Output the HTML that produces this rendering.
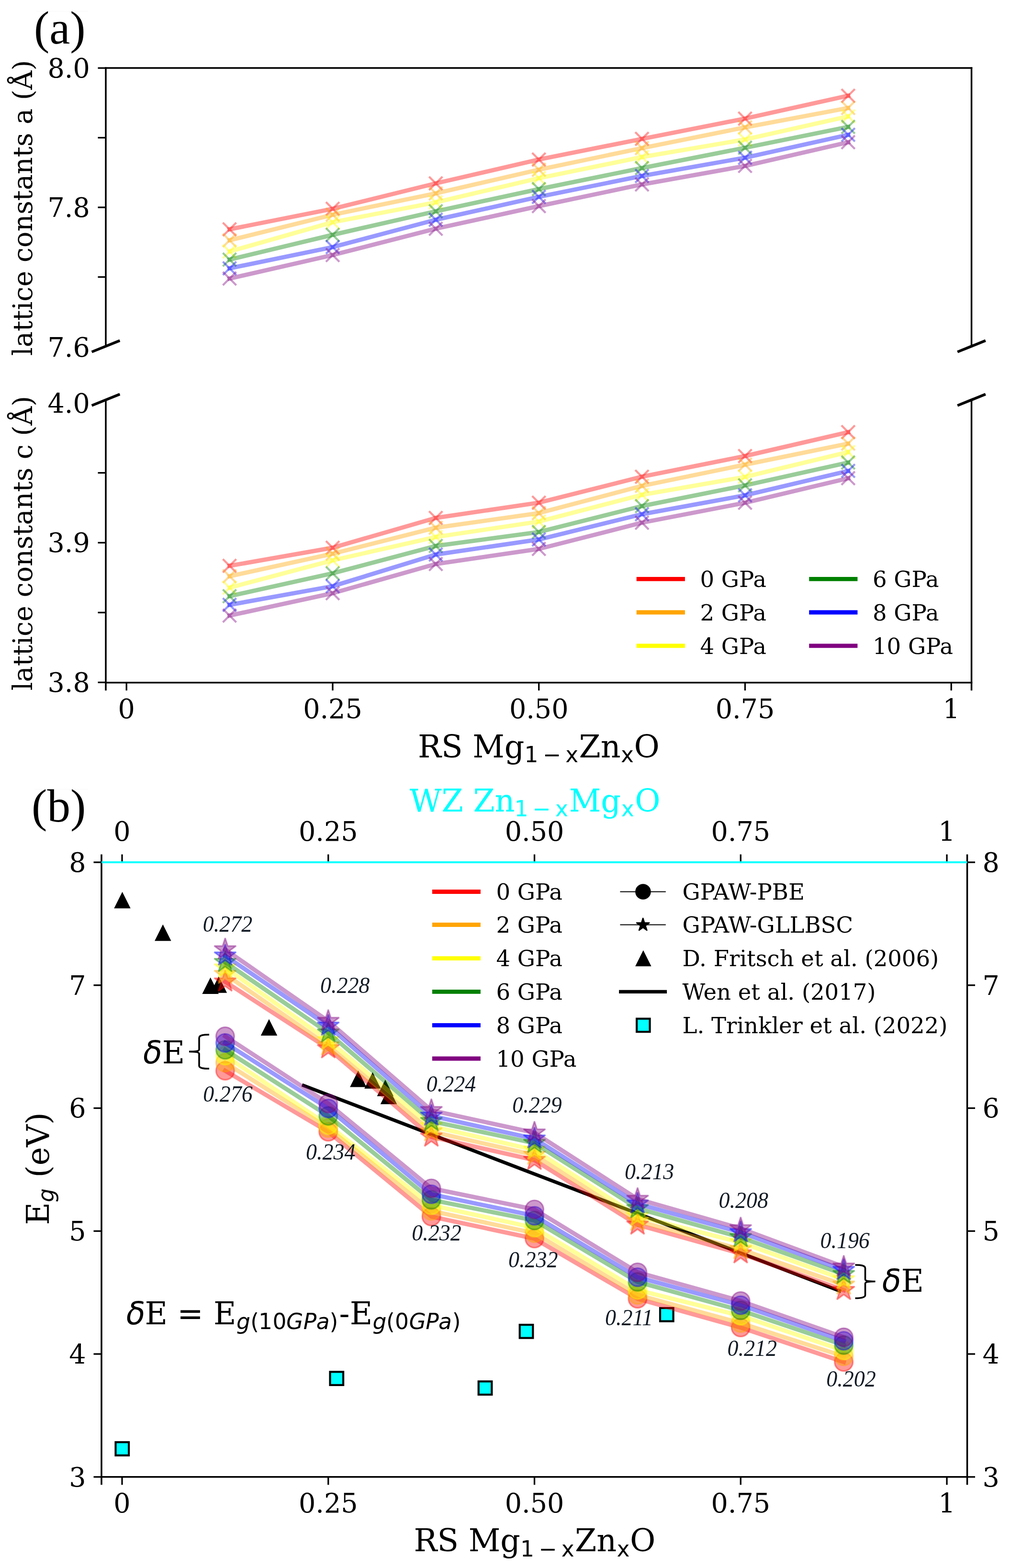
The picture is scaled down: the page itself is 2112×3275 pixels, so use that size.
<!DOCTYPE html>
<html><head><meta charset="utf-8"><title>Lattice constants and band gaps of Mg1-xZnxO</title>
<style>html,body{margin:0;padding:0;background:#fff;}svg{display:block;}</style></head>
<body>
<svg width="2112" height="3275" viewBox="0 0 2112 3275">
<rect width="2112" height="3275" fill="#fff"/>
<g id="panel-a">
<polyline points="479.57,478.9 694.95,436.1 910.33,383 1125.7,333.2 1341.08,290.1 1556.45,247.7 1771.83,199.9" fill="none" stroke="#ff0000" stroke-opacity="0.4" stroke-width="9" stroke-linejoin="round" stroke-linecap="square"/>
<path d="M465.57 464.9L493.57 492.9M465.57 492.9L493.57 464.9" stroke="#ff0000" stroke-opacity="0.4" stroke-width="4.3" fill="none"/>
<path d="M680.95 422.1L708.95 450.1M680.95 450.1L708.95 422.1" stroke="#ff0000" stroke-opacity="0.4" stroke-width="4.3" fill="none"/>
<path d="M896.33 369L924.33 397M896.33 397L924.33 369" stroke="#ff0000" stroke-opacity="0.4" stroke-width="4.3" fill="none"/>
<path d="M1111.7 319.2L1139.7 347.2M1111.7 347.2L1139.7 319.2" stroke="#ff0000" stroke-opacity="0.4" stroke-width="4.3" fill="none"/>
<path d="M1327.08 276.1L1355.08 304.1M1327.08 304.1L1355.08 276.1" stroke="#ff0000" stroke-opacity="0.4" stroke-width="4.3" fill="none"/>
<path d="M1542.45 233.7L1570.45 261.7M1542.45 261.7L1570.45 233.7" stroke="#ff0000" stroke-opacity="0.4" stroke-width="4.3" fill="none"/>
<path d="M1757.83 185.9L1785.83 213.9M1757.83 213.9L1785.83 185.9" stroke="#ff0000" stroke-opacity="0.4" stroke-width="4.3" fill="none"/>
<polyline points="479.57,501.9 694.95,448.6 910.33,403.9 1125.7,354.4 1341.08,309.3 1556.45,266 1771.83,225.5" fill="none" stroke="#ffa500" stroke-opacity="0.4" stroke-width="9" stroke-linejoin="round" stroke-linecap="square"/>
<path d="M465.57 487.9L493.57 515.9M465.57 515.9L493.57 487.9" stroke="#ffa500" stroke-opacity="0.4" stroke-width="4.3" fill="none"/>
<path d="M680.95 434.6L708.95 462.6M680.95 462.6L708.95 434.6" stroke="#ffa500" stroke-opacity="0.4" stroke-width="4.3" fill="none"/>
<path d="M896.33 389.9L924.33 417.9M896.33 417.9L924.33 389.9" stroke="#ffa500" stroke-opacity="0.4" stroke-width="4.3" fill="none"/>
<path d="M1111.7 340.4L1139.7 368.4M1111.7 368.4L1139.7 340.4" stroke="#ffa500" stroke-opacity="0.4" stroke-width="4.3" fill="none"/>
<path d="M1327.08 295.3L1355.08 323.3M1327.08 323.3L1355.08 295.3" stroke="#ffa500" stroke-opacity="0.4" stroke-width="4.3" fill="none"/>
<path d="M1542.45 252L1570.45 280M1542.45 280L1570.45 252" stroke="#ffa500" stroke-opacity="0.4" stroke-width="4.3" fill="none"/>
<path d="M1757.83 211.5L1785.83 239.5M1757.83 239.5L1785.83 211.5" stroke="#ffa500" stroke-opacity="0.4" stroke-width="4.3" fill="none"/>
<polyline points="479.57,525.3 694.95,464.2 910.33,422.6 1125.7,372.1 1341.08,328 1556.45,291.3 1771.83,243.1" fill="none" stroke="#ffff00" stroke-opacity="0.4" stroke-width="9" stroke-linejoin="round" stroke-linecap="square"/>
<path d="M465.57 511.3L493.57 539.3M465.57 539.3L493.57 511.3" stroke="#ffff00" stroke-opacity="0.4" stroke-width="4.3" fill="none"/>
<path d="M680.95 450.2L708.95 478.2M680.95 478.2L708.95 450.2" stroke="#ffff00" stroke-opacity="0.4" stroke-width="4.3" fill="none"/>
<path d="M896.33 408.6L924.33 436.6M896.33 436.6L924.33 408.6" stroke="#ffff00" stroke-opacity="0.4" stroke-width="4.3" fill="none"/>
<path d="M1111.7 358.1L1139.7 386.1M1111.7 386.1L1139.7 358.1" stroke="#ffff00" stroke-opacity="0.4" stroke-width="4.3" fill="none"/>
<path d="M1327.08 314L1355.08 342M1327.08 342L1355.08 314" stroke="#ffff00" stroke-opacity="0.4" stroke-width="4.3" fill="none"/>
<path d="M1542.45 277.3L1570.45 305.3M1542.45 305.3L1570.45 277.3" stroke="#ffff00" stroke-opacity="0.4" stroke-width="4.3" fill="none"/>
<path d="M1757.83 229.1L1785.83 257.1M1757.83 257.1L1785.83 229.1" stroke="#ffff00" stroke-opacity="0.4" stroke-width="4.3" fill="none"/>
<polyline points="479.57,542.2 694.95,490.5 910.33,441.3 1125.7,395 1341.08,351 1556.45,308.6 1771.83,265" fill="none" stroke="#008000" stroke-opacity="0.4" stroke-width="9" stroke-linejoin="round" stroke-linecap="square"/>
<path d="M465.57 528.2L493.57 556.2M465.57 556.2L493.57 528.2" stroke="#008000" stroke-opacity="0.4" stroke-width="4.3" fill="none"/>
<path d="M680.95 476.5L708.95 504.5M680.95 504.5L708.95 476.5" stroke="#008000" stroke-opacity="0.4" stroke-width="4.3" fill="none"/>
<path d="M896.33 427.3L924.33 455.3M896.33 455.3L924.33 427.3" stroke="#008000" stroke-opacity="0.4" stroke-width="4.3" fill="none"/>
<path d="M1111.7 381L1139.7 409M1111.7 409L1139.7 381" stroke="#008000" stroke-opacity="0.4" stroke-width="4.3" fill="none"/>
<path d="M1327.08 337L1355.08 365M1327.08 365L1355.08 337" stroke="#008000" stroke-opacity="0.4" stroke-width="4.3" fill="none"/>
<path d="M1542.45 294.6L1570.45 322.6M1542.45 322.6L1570.45 294.6" stroke="#008000" stroke-opacity="0.4" stroke-width="4.3" fill="none"/>
<path d="M1757.83 251L1785.83 279M1757.83 279L1785.83 251" stroke="#008000" stroke-opacity="0.4" stroke-width="4.3" fill="none"/>
<polyline points="479.57,560.4 694.95,516.1 910.33,459 1125.7,411.2 1341.08,367.5 1556.45,329.4 1771.83,281.6" fill="none" stroke="#0000ff" stroke-opacity="0.4" stroke-width="9" stroke-linejoin="round" stroke-linecap="square"/>
<path d="M465.57 546.4L493.57 574.4M465.57 574.4L493.57 546.4" stroke="#0000ff" stroke-opacity="0.4" stroke-width="4.3" fill="none"/>
<path d="M680.95 502.1L708.95 530.1M680.95 530.1L708.95 502.1" stroke="#0000ff" stroke-opacity="0.4" stroke-width="4.3" fill="none"/>
<path d="M896.33 445L924.33 473M896.33 473L924.33 445" stroke="#0000ff" stroke-opacity="0.4" stroke-width="4.3" fill="none"/>
<path d="M1111.7 397.2L1139.7 425.2M1111.7 425.2L1139.7 397.2" stroke="#0000ff" stroke-opacity="0.4" stroke-width="4.3" fill="none"/>
<path d="M1327.08 353.5L1355.08 381.5M1327.08 381.5L1355.08 353.5" stroke="#0000ff" stroke-opacity="0.4" stroke-width="4.3" fill="none"/>
<path d="M1542.45 315.4L1570.45 343.4M1542.45 343.4L1570.45 315.4" stroke="#0000ff" stroke-opacity="0.4" stroke-width="4.3" fill="none"/>
<path d="M1757.83 267.6L1785.83 295.6M1757.83 295.6L1785.83 267.6" stroke="#0000ff" stroke-opacity="0.4" stroke-width="4.3" fill="none"/>
<polyline points="479.57,581.8 694.95,532.7 910.33,477.7 1125.7,430.5 1341.08,385.2 1556.45,346.6 1771.83,297.1" fill="none" stroke="#800080" stroke-opacity="0.4" stroke-width="9" stroke-linejoin="round" stroke-linecap="square"/>
<path d="M465.57 567.8L493.57 595.8M465.57 595.8L493.57 567.8" stroke="#800080" stroke-opacity="0.4" stroke-width="4.3" fill="none"/>
<path d="M680.95 518.7L708.95 546.7M680.95 546.7L708.95 518.7" stroke="#800080" stroke-opacity="0.4" stroke-width="4.3" fill="none"/>
<path d="M896.33 463.7L924.33 491.7M896.33 491.7L924.33 463.7" stroke="#800080" stroke-opacity="0.4" stroke-width="4.3" fill="none"/>
<path d="M1111.7 416.5L1139.7 444.5M1111.7 444.5L1139.7 416.5" stroke="#800080" stroke-opacity="0.4" stroke-width="4.3" fill="none"/>
<path d="M1327.08 371.2L1355.08 399.2M1327.08 399.2L1355.08 371.2" stroke="#800080" stroke-opacity="0.4" stroke-width="4.3" fill="none"/>
<path d="M1542.45 332.6L1570.45 360.6M1542.45 360.6L1570.45 332.6" stroke="#800080" stroke-opacity="0.4" stroke-width="4.3" fill="none"/>
<path d="M1757.83 283.1L1785.83 311.1M1757.83 311.1L1785.83 283.1" stroke="#800080" stroke-opacity="0.4" stroke-width="4.3" fill="none"/>
<polyline points="479.57,1181.8 694.95,1144 910.33,1081.7 1125.7,1049.9 1341.08,995.7 1556.45,952.5 1771.83,902.6" fill="none" stroke="#ff0000" stroke-opacity="0.4" stroke-width="9" stroke-linejoin="round" stroke-linecap="square"/>
<path d="M465.57 1167.8L493.57 1195.8M465.57 1195.8L493.57 1167.8" stroke="#ff0000" stroke-opacity="0.4" stroke-width="4.3" fill="none"/>
<path d="M680.95 1130L708.95 1158M680.95 1158L708.95 1130" stroke="#ff0000" stroke-opacity="0.4" stroke-width="4.3" fill="none"/>
<path d="M896.33 1067.7L924.33 1095.7M896.33 1095.7L924.33 1067.7" stroke="#ff0000" stroke-opacity="0.4" stroke-width="4.3" fill="none"/>
<path d="M1111.7 1035.9L1139.7 1063.9M1111.7 1063.9L1139.7 1035.9" stroke="#ff0000" stroke-opacity="0.4" stroke-width="4.3" fill="none"/>
<path d="M1327.08 981.7L1355.08 1009.7M1327.08 1009.7L1355.08 981.7" stroke="#ff0000" stroke-opacity="0.4" stroke-width="4.3" fill="none"/>
<path d="M1542.45 938.5L1570.45 966.5M1542.45 966.5L1570.45 938.5" stroke="#ff0000" stroke-opacity="0.4" stroke-width="4.3" fill="none"/>
<path d="M1757.83 888.6L1785.83 916.6M1757.83 916.6L1785.83 888.6" stroke="#ff0000" stroke-opacity="0.4" stroke-width="4.3" fill="none"/>
<polyline points="479.57,1203.6 694.95,1156.5 910.33,1102.2 1125.7,1071.7 1341.08,1014.8 1556.45,970.5 1771.83,926.5" fill="none" stroke="#ffa500" stroke-opacity="0.4" stroke-width="9" stroke-linejoin="round" stroke-linecap="square"/>
<path d="M465.57 1189.6L493.57 1217.6M465.57 1217.6L493.57 1189.6" stroke="#ffa500" stroke-opacity="0.4" stroke-width="4.3" fill="none"/>
<path d="M680.95 1142.5L708.95 1170.5M680.95 1170.5L708.95 1142.5" stroke="#ffa500" stroke-opacity="0.4" stroke-width="4.3" fill="none"/>
<path d="M896.33 1088.2L924.33 1116.2M896.33 1116.2L924.33 1088.2" stroke="#ffa500" stroke-opacity="0.4" stroke-width="4.3" fill="none"/>
<path d="M1111.7 1057.7L1139.7 1085.7M1111.7 1085.7L1139.7 1057.7" stroke="#ffa500" stroke-opacity="0.4" stroke-width="4.3" fill="none"/>
<path d="M1327.08 1000.8L1355.08 1028.8M1327.08 1028.8L1355.08 1000.8" stroke="#ffa500" stroke-opacity="0.4" stroke-width="4.3" fill="none"/>
<path d="M1542.45 956.5L1570.45 984.5M1542.45 984.5L1570.45 956.5" stroke="#ffa500" stroke-opacity="0.4" stroke-width="4.3" fill="none"/>
<path d="M1757.83 912.5L1785.83 940.5M1757.83 940.5L1785.83 912.5" stroke="#ffa500" stroke-opacity="0.4" stroke-width="4.3" fill="none"/>
<polyline points="479.57,1227.5 694.95,1170.4 910.33,1121.6 1125.7,1089.4 1341.08,1033.5 1556.45,996.1 1771.83,944.2" fill="none" stroke="#ffff00" stroke-opacity="0.4" stroke-width="9" stroke-linejoin="round" stroke-linecap="square"/>
<path d="M465.57 1213.5L493.57 1241.5M465.57 1241.5L493.57 1213.5" stroke="#ffff00" stroke-opacity="0.4" stroke-width="4.3" fill="none"/>
<path d="M680.95 1156.4L708.95 1184.4M680.95 1184.4L708.95 1156.4" stroke="#ffff00" stroke-opacity="0.4" stroke-width="4.3" fill="none"/>
<path d="M896.33 1107.6L924.33 1135.6M896.33 1135.6L924.33 1107.6" stroke="#ffff00" stroke-opacity="0.4" stroke-width="4.3" fill="none"/>
<path d="M1111.7 1075.4L1139.7 1103.4M1111.7 1103.4L1139.7 1075.4" stroke="#ffff00" stroke-opacity="0.4" stroke-width="4.3" fill="none"/>
<path d="M1327.08 1019.5L1355.08 1047.5M1327.08 1047.5L1355.08 1019.5" stroke="#ffff00" stroke-opacity="0.4" stroke-width="4.3" fill="none"/>
<path d="M1542.45 982.1L1570.45 1010.1M1542.45 1010.1L1570.45 982.1" stroke="#ffff00" stroke-opacity="0.4" stroke-width="4.3" fill="none"/>
<path d="M1757.83 930.2L1785.83 958.2M1757.83 958.2L1785.83 930.2" stroke="#ffff00" stroke-opacity="0.4" stroke-width="4.3" fill="none"/>
<polyline points="479.57,1245.2 694.95,1197.4 910.33,1140.3 1125.7,1111.2 1341.08,1057 1556.45,1013.8 1771.83,966" fill="none" stroke="#008000" stroke-opacity="0.4" stroke-width="9" stroke-linejoin="round" stroke-linecap="square"/>
<path d="M465.57 1231.2L493.57 1259.2M465.57 1259.2L493.57 1231.2" stroke="#008000" stroke-opacity="0.4" stroke-width="4.3" fill="none"/>
<path d="M680.95 1183.4L708.95 1211.4M680.95 1211.4L708.95 1183.4" stroke="#008000" stroke-opacity="0.4" stroke-width="4.3" fill="none"/>
<path d="M896.33 1126.3L924.33 1154.3M896.33 1154.3L924.33 1126.3" stroke="#008000" stroke-opacity="0.4" stroke-width="4.3" fill="none"/>
<path d="M1111.7 1097.2L1139.7 1125.2M1111.7 1125.2L1139.7 1097.2" stroke="#008000" stroke-opacity="0.4" stroke-width="4.3" fill="none"/>
<path d="M1327.08 1043L1355.08 1071M1327.08 1071L1355.08 1043" stroke="#008000" stroke-opacity="0.4" stroke-width="4.3" fill="none"/>
<path d="M1542.45 999.8L1570.45 1027.8M1542.45 1027.8L1570.45 999.8" stroke="#008000" stroke-opacity="0.4" stroke-width="4.3" fill="none"/>
<path d="M1757.83 952L1785.83 980M1757.83 980L1785.83 952" stroke="#008000" stroke-opacity="0.4" stroke-width="4.3" fill="none"/>
<polyline points="479.57,1263.3 694.95,1224.4 910.33,1158.3 1125.7,1126.8 1341.08,1074 1556.45,1034.5 1771.83,983.6" fill="none" stroke="#0000ff" stroke-opacity="0.4" stroke-width="9" stroke-linejoin="round" stroke-linecap="square"/>
<path d="M465.57 1249.3L493.57 1277.3M465.57 1277.3L493.57 1249.3" stroke="#0000ff" stroke-opacity="0.4" stroke-width="4.3" fill="none"/>
<path d="M680.95 1210.4L708.95 1238.4M680.95 1238.4L708.95 1210.4" stroke="#0000ff" stroke-opacity="0.4" stroke-width="4.3" fill="none"/>
<path d="M896.33 1144.3L924.33 1172.3M896.33 1172.3L924.33 1144.3" stroke="#0000ff" stroke-opacity="0.4" stroke-width="4.3" fill="none"/>
<path d="M1111.7 1112.8L1139.7 1140.8M1111.7 1140.8L1139.7 1112.8" stroke="#0000ff" stroke-opacity="0.4" stroke-width="4.3" fill="none"/>
<path d="M1327.08 1060L1355.08 1088M1327.08 1088L1355.08 1060" stroke="#0000ff" stroke-opacity="0.4" stroke-width="4.3" fill="none"/>
<path d="M1542.45 1020.5L1570.45 1048.5M1542.45 1048.5L1570.45 1020.5" stroke="#0000ff" stroke-opacity="0.4" stroke-width="4.3" fill="none"/>
<path d="M1757.83 969.6L1785.83 997.6M1757.83 997.6L1785.83 969.6" stroke="#0000ff" stroke-opacity="0.4" stroke-width="4.3" fill="none"/>
<polyline points="479.57,1285.7 694.95,1239 910.33,1178 1125.7,1146.5 1341.08,1091.7 1556.45,1050.1 1771.83,998.8" fill="none" stroke="#800080" stroke-opacity="0.4" stroke-width="9" stroke-linejoin="round" stroke-linecap="square"/>
<path d="M465.57 1271.7L493.57 1299.7M465.57 1299.7L493.57 1271.7" stroke="#800080" stroke-opacity="0.4" stroke-width="4.3" fill="none"/>
<path d="M680.95 1225L708.95 1253M680.95 1253L708.95 1225" stroke="#800080" stroke-opacity="0.4" stroke-width="4.3" fill="none"/>
<path d="M896.33 1164L924.33 1192M896.33 1192L924.33 1164" stroke="#800080" stroke-opacity="0.4" stroke-width="4.3" fill="none"/>
<path d="M1111.7 1132.5L1139.7 1160.5M1111.7 1160.5L1139.7 1132.5" stroke="#800080" stroke-opacity="0.4" stroke-width="4.3" fill="none"/>
<path d="M1327.08 1077.7L1355.08 1105.7M1327.08 1105.7L1355.08 1077.7" stroke="#800080" stroke-opacity="0.4" stroke-width="4.3" fill="none"/>
<path d="M1542.45 1036.1L1570.45 1064.1M1542.45 1064.1L1570.45 1036.1" stroke="#800080" stroke-opacity="0.4" stroke-width="4.3" fill="none"/>
<path d="M1757.83 984.8L1785.83 1012.8M1757.83 1012.8L1785.83 984.8" stroke="#800080" stroke-opacity="0.4" stroke-width="4.3" fill="none"/>
<line x1="221" y1="140.25" x2="221" y2="723.2" stroke="#000" stroke-width="3.5" stroke-linecap="butt" />
<line x1="2029.5" y1="140.25" x2="2029.5" y2="723.2" stroke="#000" stroke-width="3.5" stroke-linecap="butt" />
<line x1="219.25" y1="142" x2="2031.25" y2="142" stroke="#000" stroke-width="3.5" stroke-linecap="butt" />
<line x1="221" y1="835.2" x2="221" y2="1442.2" stroke="#000" stroke-width="3.5" stroke-linecap="butt" />
<line x1="2029.5" y1="835.2" x2="2029.5" y2="1442.2" stroke="#000" stroke-width="3.5" stroke-linecap="butt" />
<line x1="219.25" y1="1425.7" x2="2031.25" y2="1425.7" stroke="#000" stroke-width="3.5" stroke-linecap="butt" />
<line x1="204.5" y1="142.1" x2="221" y2="142.1" stroke="#000" stroke-width="3.3" stroke-linecap="butt" />
<line x1="204.5" y1="287.6" x2="221" y2="287.6" stroke="#000" stroke-width="3.3" stroke-linecap="butt" />
<line x1="204.5" y1="433.1" x2="221" y2="433.1" stroke="#000" stroke-width="3.3" stroke-linecap="butt" />
<line x1="204.5" y1="578.6" x2="221" y2="578.6" stroke="#000" stroke-width="3.3" stroke-linecap="butt" />
<line x1="204.5" y1="987.6" x2="221" y2="987.6" stroke="#000" stroke-width="3.3" stroke-linecap="butt" />
<line x1="204.5" y1="1133.5" x2="221" y2="1133.5" stroke="#000" stroke-width="3.3" stroke-linecap="butt" />
<line x1="204.5" y1="1279.4" x2="221" y2="1279.4" stroke="#000" stroke-width="3.3" stroke-linecap="butt" />
<line x1="204.5" y1="1425.3" x2="221" y2="1425.3" stroke="#000" stroke-width="3.3" stroke-linecap="butt" />
<line x1="264.2" y1="1425.7" x2="264.2" y2="1442.2" stroke="#000" stroke-width="3.3" stroke-linecap="butt" />
<line x1="694.95" y1="1425.7" x2="694.95" y2="1442.2" stroke="#000" stroke-width="3.3" stroke-linecap="butt" />
<line x1="1125.7" y1="1425.7" x2="1125.7" y2="1442.2" stroke="#000" stroke-width="3.3" stroke-linecap="butt" />
<line x1="1556.45" y1="1425.7" x2="1556.45" y2="1442.2" stroke="#000" stroke-width="3.3" stroke-linecap="butt" />
<line x1="1987.2" y1="1425.7" x2="1987.2" y2="1442.2" stroke="#000" stroke-width="3.3" stroke-linecap="butt" />
<line x1="191.7" y1="735" x2="250.3" y2="711.4" stroke="#000" stroke-width="5.6" stroke-linecap="butt" />
<line x1="2000.2" y1="735" x2="2058.8" y2="711.4" stroke="#000" stroke-width="5.6" stroke-linecap="butt" />
<line x1="191.7" y1="847" x2="250.3" y2="823.4" stroke="#000" stroke-width="5.6" stroke-linecap="butt" />
<line x1="2000.2" y1="847" x2="2058.8" y2="823.4" stroke="#000" stroke-width="5.6" stroke-linecap="butt" />
<text x="187.8" y="161.9" text-anchor="end" fill="#000" style="font-family:'DejaVu Serif', 'Liberation Serif', serif;font-size:55.5px;" >8.0</text>
<text x="187.8" y="452.9" text-anchor="end" fill="#000" style="font-family:'DejaVu Serif', 'Liberation Serif', serif;font-size:55.5px;" >7.8</text>
<text x="187.8" y="744.7" text-anchor="end" fill="#000" style="font-family:'DejaVu Serif', 'Liberation Serif', serif;font-size:55.5px;" >7.6</text>
<text x="187.8" y="862.3" text-anchor="end" fill="#000" style="font-family:'DejaVu Serif', 'Liberation Serif', serif;font-size:55.5px;" >4.0</text>
<text x="187.8" y="1153.3" text-anchor="end" fill="#000" style="font-family:'DejaVu Serif', 'Liberation Serif', serif;font-size:55.5px;" >3.9</text>
<text x="187.8" y="1445.1" text-anchor="end" fill="#000" style="font-family:'DejaVu Serif', 'Liberation Serif', serif;font-size:55.5px;" >3.8</text>
<text x="264.2" y="1500" text-anchor="middle" fill="#000" style="font-family:'DejaVu Serif', 'Liberation Serif', serif;font-size:55.5px;" >0</text>
<text x="694.95" y="1500" text-anchor="middle" fill="#000" style="font-family:'DejaVu Serif', 'Liberation Serif', serif;font-size:55.5px;" >0.25</text>
<text x="1125.7" y="1500" text-anchor="middle" fill="#000" style="font-family:'DejaVu Serif', 'Liberation Serif', serif;font-size:55.5px;" >0.50</text>
<text x="1556.45" y="1500" text-anchor="middle" fill="#000" style="font-family:'DejaVu Serif', 'Liberation Serif', serif;font-size:55.5px;" >0.75</text>
<text x="1987.2" y="1500" text-anchor="middle" fill="#000" style="font-family:'DejaVu Serif', 'Liberation Serif', serif;font-size:55.5px;" >1</text>
<text transform="translate(66.6 434.3) rotate(-90)" text-anchor="middle" style="font-family:'DejaVu Serif', 'Liberation Serif', serif;font-size:55.5px;">lattice constants a (Å)</text>
<text transform="translate(66.6 1134.6) rotate(-90)" text-anchor="middle" style="font-family:'DejaVu Serif', 'Liberation Serif', serif;font-size:55.5px;">lattice constants c (Å)</text>
<line x1="1329.7" y1="1209.3" x2="1430.9" y2="1209.3" stroke="#ff0000" stroke-width="8.8" stroke-linecap="butt" />
<text x="1462.5" y="1226.1" text-anchor="start" fill="#000" style="font-family:'DejaVu Serif', 'Liberation Serif', serif;font-size:46.5px;" >0 GPa</text>
<line x1="1329.7" y1="1279" x2="1430.9" y2="1279" stroke="#ffa500" stroke-width="8.8" stroke-linecap="butt" />
<text x="1462.5" y="1295.8" text-anchor="start" fill="#000" style="font-family:'DejaVu Serif', 'Liberation Serif', serif;font-size:46.5px;" >2 GPa</text>
<line x1="1329.7" y1="1348.9" x2="1430.9" y2="1348.9" stroke="#ffff00" stroke-width="8.8" stroke-linecap="butt" />
<text x="1462.5" y="1365.7" text-anchor="start" fill="#000" style="font-family:'DejaVu Serif', 'Liberation Serif', serif;font-size:46.5px;" >4 GPa</text>
<line x1="1690.2" y1="1209.3" x2="1791.4" y2="1209.3" stroke="#008000" stroke-width="8.8" stroke-linecap="butt" />
<text x="1823" y="1226.1" text-anchor="start" fill="#000" style="font-family:'DejaVu Serif', 'Liberation Serif', serif;font-size:46.5px;" >6 GPa</text>
<line x1="1690.2" y1="1279" x2="1791.4" y2="1279" stroke="#0000ff" stroke-width="8.8" stroke-linecap="butt" />
<text x="1823" y="1295.8" text-anchor="start" fill="#000" style="font-family:'DejaVu Serif', 'Liberation Serif', serif;font-size:46.5px;" >8 GPa</text>
<line x1="1690.2" y1="1348.9" x2="1791.4" y2="1348.9" stroke="#800080" stroke-width="8.8" stroke-linecap="butt" />
<text x="1823" y="1365.7" text-anchor="start" fill="#000" style="font-family:'DejaVu Serif', 'Liberation Serif', serif;font-size:46.5px;" >10 GPa</text>
</g>
<rect x="75" y="23" width="108" height="1" fill="#f7f7f7"/>
<rect x="72" y="1648" width="111" height="1" fill="#f7f7f7"/>
<text x="71" y="91.2" text-anchor="start" fill="#000" style="font-family:'Liberation Serif', 'Times New Roman', serif;font-size:97px;" >(a)</text>
<text fill="#000" style="font-family:'DejaVu Serif', 'Liberation Serif', serif;font-size:65px;"><tspan x="873.1" y="1581.7">RS Mg</tspan><tspan x="1095.5" y="1591.9" style="font-family:'DejaVu Sans', 'Liberation Sans', sans-serif;font-size:45.5px;">1</tspan><tspan x="1133.9" y="1591.9" style="font-family:'DejaVu Sans', 'Liberation Sans', sans-serif;font-size:45.5px;">−</tspan><tspan x="1181.2" y="1591.9" style="font-family:'DejaVu Sans', 'Liberation Sans', sans-serif;font-size:45.5px;">x</tspan><tspan x="1209.5" y="1581.7">Zn</tspan><tspan x="1297" y="1591.9" style="font-family:'DejaVu Sans', 'Liberation Sans', sans-serif;font-size:45.5px;">x</tspan><tspan x="1324.4" y="1581.7">O</tspan></text>
<g id="panel-b">
<path d="M255.5 1862.75L238.25 1897.25L272.75 1897.25Z" fill="#000"/>
<path d="M340.3 1930.75L323.05 1965.25L357.55 1965.25Z" fill="#000"/>
<path d="M439.6 2041.45L422.35 2075.95L456.85 2075.95Z" fill="#000"/>
<path d="M456.9 2039.35L439.65 2073.85L474.15 2073.85Z" fill="#000"/>
<path d="M562 2128.45L544.75 2162.95L579.25 2162.95Z" fill="#000"/>
<path d="M748.3 2235.95L731.05 2270.45L765.55 2270.45Z" fill="#000"/>
<path d="M778.4 2239.35L761.15 2273.85L795.65 2273.85Z" fill="#000"/>
<path d="M804.9 2255.05L787.65 2289.55L822.15 2289.55Z" fill="#000"/>
<path d="M812 2271.75L794.75 2306.25L829.25 2306.25Z" fill="#000"/>
<line x1="631" y1="2266" x2="1757" y2="2697.5" stroke="#000" stroke-width="7.2" stroke-linecap="butt" />
<rect x="241.5" y="3012.2" width="27.6" height="27.6" fill="#00ffff" stroke="#000" stroke-width="4.2"/>
<rect x="689.5" y="2865.3" width="27.6" height="27.6" fill="#00ffff" stroke="#000" stroke-width="4.2"/>
<rect x="999.7" y="2885.3" width="27.6" height="27.6" fill="#00ffff" stroke="#000" stroke-width="4.2"/>
<rect x="1085.7" y="2767" width="27.6" height="27.6" fill="#00ffff" stroke="#000" stroke-width="4.2"/>
<rect x="1379" y="2732" width="27.6" height="27.6" fill="#00ffff" stroke="#000" stroke-width="4.2"/>
<polyline points="470.38,2236.4 685.75,2364 901.12,2541 1116.5,2587 1331.88,2712.7 1547.25,2772.7 1762.62,2844.7" fill="none" stroke="#ff0000" stroke-opacity="0.4" stroke-width="9" stroke-linejoin="round" stroke-linecap="square"/>
<circle cx="470.38" cy="2236.4" r="19" fill="#ff0000" fill-opacity="0.4" stroke="#ff0000" stroke-opacity="0.4" stroke-width="3.2"/>
<circle cx="685.75" cy="2364" r="19" fill="#ff0000" fill-opacity="0.4" stroke="#ff0000" stroke-opacity="0.4" stroke-width="3.2"/>
<circle cx="901.12" cy="2541" r="19" fill="#ff0000" fill-opacity="0.4" stroke="#ff0000" stroke-opacity="0.4" stroke-width="3.2"/>
<circle cx="1116.5" cy="2587" r="19" fill="#ff0000" fill-opacity="0.4" stroke="#ff0000" stroke-opacity="0.4" stroke-width="3.2"/>
<circle cx="1331.88" cy="2712.7" r="19" fill="#ff0000" fill-opacity="0.4" stroke="#ff0000" stroke-opacity="0.4" stroke-width="3.2"/>
<circle cx="1547.25" cy="2772.7" r="19" fill="#ff0000" fill-opacity="0.4" stroke="#ff0000" stroke-opacity="0.4" stroke-width="3.2"/>
<circle cx="1762.62" cy="2844.7" r="19" fill="#ff0000" fill-opacity="0.4" stroke="#ff0000" stroke-opacity="0.4" stroke-width="3.2"/>
<polyline points="470.38,2050.5 685.75,2190 901.12,2374.5 1116.5,2423 1331.88,2558.2 1547.25,2618.2 1762.62,2694.7" fill="none" stroke="#ff0000" stroke-opacity="0.4" stroke-width="9" stroke-linejoin="round" stroke-linecap="square"/>
<path d="M470.38 2026.5L464.99 2043.08L447.55 2043.08L461.66 2053.33L456.27 2069.92L470.38 2059.67L484.48 2069.92L479.09 2053.33L493.2 2043.08L475.76 2043.08Z" fill="#ff0000" fill-opacity="0.4" stroke="#ff0000" stroke-opacity="0.4" stroke-width="3.2" stroke-linejoin="bevel"/>
<path d="M685.75 2166L680.36 2182.58L662.92 2182.58L677.03 2192.83L671.64 2209.42L685.75 2199.17L699.86 2209.42L694.47 2192.83L708.58 2182.58L691.14 2182.58Z" fill="#ff0000" fill-opacity="0.4" stroke="#ff0000" stroke-opacity="0.4" stroke-width="3.2" stroke-linejoin="bevel"/>
<path d="M901.12 2350.5L895.74 2367.08L878.3 2367.08L892.41 2377.33L887.02 2393.92L901.12 2383.67L915.23 2393.92L909.84 2377.33L923.95 2367.08L906.51 2367.08Z" fill="#ff0000" fill-opacity="0.4" stroke="#ff0000" stroke-opacity="0.4" stroke-width="3.2" stroke-linejoin="bevel"/>
<path d="M1116.5 2399L1111.11 2415.58L1093.67 2415.58L1107.78 2425.83L1102.39 2442.42L1116.5 2432.17L1130.61 2442.42L1125.22 2425.83L1139.33 2415.58L1121.89 2415.58Z" fill="#ff0000" fill-opacity="0.4" stroke="#ff0000" stroke-opacity="0.4" stroke-width="3.2" stroke-linejoin="bevel"/>
<path d="M1331.88 2534.2L1326.49 2550.78L1309.05 2550.78L1323.16 2561.03L1317.77 2577.62L1331.88 2567.37L1345.98 2577.62L1340.59 2561.03L1354.7 2550.78L1337.26 2550.78Z" fill="#ff0000" fill-opacity="0.4" stroke="#ff0000" stroke-opacity="0.4" stroke-width="3.2" stroke-linejoin="bevel"/>
<path d="M1547.25 2594.2L1541.86 2610.78L1524.42 2610.78L1538.53 2621.03L1533.14 2637.62L1547.25 2627.37L1561.36 2637.62L1555.97 2621.03L1570.08 2610.78L1552.64 2610.78Z" fill="#ff0000" fill-opacity="0.4" stroke="#ff0000" stroke-opacity="0.4" stroke-width="3.2" stroke-linejoin="bevel"/>
<path d="M1762.62 2670.7L1757.24 2687.28L1739.8 2687.28L1753.91 2697.53L1748.52 2714.12L1762.62 2703.87L1776.73 2714.12L1771.34 2697.53L1785.45 2687.28L1768.01 2687.28Z" fill="#ff0000" fill-opacity="0.4" stroke="#ff0000" stroke-opacity="0.4" stroke-width="3.2" stroke-linejoin="bevel"/>
<polyline points="470.38,2219.5 685.75,2356.2 901.12,2529.18 1116.5,2575.68 1331.88,2704.68 1547.25,2763.5 1762.62,2832.94" fill="none" stroke="#ffa500" stroke-opacity="0.4" stroke-width="9" stroke-linejoin="round" stroke-linecap="square"/>
<circle cx="470.38" cy="2219.5" r="19" fill="#ffa500" fill-opacity="0.4" stroke="#ffa500" stroke-opacity="0.4" stroke-width="3.2"/>
<circle cx="685.75" cy="2356.2" r="19" fill="#ffa500" fill-opacity="0.4" stroke="#ffa500" stroke-opacity="0.4" stroke-width="3.2"/>
<circle cx="901.12" cy="2529.18" r="19" fill="#ffa500" fill-opacity="0.4" stroke="#ffa500" stroke-opacity="0.4" stroke-width="3.2"/>
<circle cx="1116.5" cy="2575.68" r="19" fill="#ffa500" fill-opacity="0.4" stroke="#ffa500" stroke-opacity="0.4" stroke-width="3.2"/>
<circle cx="1331.88" cy="2704.68" r="19" fill="#ffa500" fill-opacity="0.4" stroke="#ffa500" stroke-opacity="0.4" stroke-width="3.2"/>
<circle cx="1547.25" cy="2763.5" r="19" fill="#ffa500" fill-opacity="0.4" stroke="#ffa500" stroke-opacity="0.4" stroke-width="3.2"/>
<circle cx="1762.62" cy="2832.94" r="19" fill="#ffa500" fill-opacity="0.4" stroke="#ffa500" stroke-opacity="0.4" stroke-width="3.2"/>
<polyline points="470.38,2034.7 685.75,2184.1 901.12,2363.4 1116.5,2412.4 1331.88,2550.4 1547.25,2609.5 1762.62,2683.6" fill="none" stroke="#ffa500" stroke-opacity="0.4" stroke-width="9" stroke-linejoin="round" stroke-linecap="square"/>
<path d="M470.38 2010.7L464.99 2027.28L447.55 2027.28L461.66 2037.53L456.27 2054.12L470.38 2043.87L484.48 2054.12L479.09 2037.53L493.2 2027.28L475.76 2027.28Z" fill="#ffa500" fill-opacity="0.4" stroke="#ffa500" stroke-opacity="0.4" stroke-width="3.2" stroke-linejoin="bevel"/>
<path d="M685.75 2160.1L680.36 2176.68L662.92 2176.68L677.03 2186.93L671.64 2203.52L685.75 2193.27L699.86 2203.52L694.47 2186.93L708.58 2176.68L691.14 2176.68Z" fill="#ffa500" fill-opacity="0.4" stroke="#ffa500" stroke-opacity="0.4" stroke-width="3.2" stroke-linejoin="bevel"/>
<path d="M901.12 2339.4L895.74 2355.98L878.3 2355.98L892.41 2366.23L887.02 2382.82L901.12 2372.57L915.23 2382.82L909.84 2366.23L923.95 2355.98L906.51 2355.98Z" fill="#ffa500" fill-opacity="0.4" stroke="#ffa500" stroke-opacity="0.4" stroke-width="3.2" stroke-linejoin="bevel"/>
<path d="M1116.5 2388.4L1111.11 2404.98L1093.67 2404.98L1107.78 2415.23L1102.39 2431.82L1116.5 2421.57L1130.61 2431.82L1125.22 2415.23L1139.33 2404.98L1121.89 2404.98Z" fill="#ffa500" fill-opacity="0.4" stroke="#ffa500" stroke-opacity="0.4" stroke-width="3.2" stroke-linejoin="bevel"/>
<path d="M1331.88 2526.4L1326.49 2542.98L1309.05 2542.98L1323.16 2553.23L1317.77 2569.82L1331.88 2559.57L1345.98 2569.82L1340.59 2553.23L1354.7 2542.98L1337.26 2542.98Z" fill="#ffa500" fill-opacity="0.4" stroke="#ffa500" stroke-opacity="0.4" stroke-width="3.2" stroke-linejoin="bevel"/>
<path d="M1547.25 2585.5L1541.86 2602.08L1524.42 2602.08L1538.53 2612.33L1533.14 2628.92L1547.25 2618.67L1561.36 2628.92L1555.97 2612.33L1570.08 2602.08L1552.64 2602.08Z" fill="#ffa500" fill-opacity="0.4" stroke="#ffa500" stroke-opacity="0.4" stroke-width="3.2" stroke-linejoin="bevel"/>
<path d="M1762.62 2659.6L1757.24 2676.18L1739.8 2676.18L1753.91 2686.43L1748.52 2703.02L1762.62 2692.77L1776.73 2703.02L1771.34 2686.43L1785.45 2676.18L1768.01 2676.18Z" fill="#ffa500" fill-opacity="0.4" stroke="#ffa500" stroke-opacity="0.4" stroke-width="3.2" stroke-linejoin="bevel"/>
<polyline points="470.38,2205.05 685.75,2350.3 901.12,2517.46 1116.5,2564.35 1331.88,2694.3 1547.25,2748.17 1762.62,2820.97" fill="none" stroke="#ffff00" stroke-opacity="0.4" stroke-width="9" stroke-linejoin="round" stroke-linecap="square"/>
<circle cx="470.38" cy="2205.05" r="19" fill="#ffff00" fill-opacity="0.4" stroke="#ffff00" stroke-opacity="0.4" stroke-width="3.2"/>
<circle cx="685.75" cy="2350.3" r="19" fill="#ffff00" fill-opacity="0.4" stroke="#ffff00" stroke-opacity="0.4" stroke-width="3.2"/>
<circle cx="901.12" cy="2517.46" r="19" fill="#ffff00" fill-opacity="0.4" stroke="#ffff00" stroke-opacity="0.4" stroke-width="3.2"/>
<circle cx="1116.5" cy="2564.35" r="19" fill="#ffff00" fill-opacity="0.4" stroke="#ffff00" stroke-opacity="0.4" stroke-width="3.2"/>
<circle cx="1331.88" cy="2694.3" r="19" fill="#ffff00" fill-opacity="0.4" stroke="#ffff00" stroke-opacity="0.4" stroke-width="3.2"/>
<circle cx="1547.25" cy="2748.17" r="19" fill="#ffff00" fill-opacity="0.4" stroke="#ffff00" stroke-opacity="0.4" stroke-width="3.2"/>
<circle cx="1762.62" cy="2820.97" r="19" fill="#ffff00" fill-opacity="0.4" stroke="#ffff00" stroke-opacity="0.4" stroke-width="3.2"/>
<polyline points="470.38,2021.2 685.75,2173 901.12,2352.4 1116.5,2401.8 1331.88,2540.3 1547.25,2595 1762.62,2672.3" fill="none" stroke="#ffff00" stroke-opacity="0.4" stroke-width="9" stroke-linejoin="round" stroke-linecap="square"/>
<path d="M470.38 1997.2L464.99 2013.78L447.55 2013.78L461.66 2024.03L456.27 2040.62L470.38 2030.37L484.48 2040.62L479.09 2024.03L493.2 2013.78L475.76 2013.78Z" fill="#ffff00" fill-opacity="0.4" stroke="#ffff00" stroke-opacity="0.4" stroke-width="3.2" stroke-linejoin="bevel"/>
<path d="M685.75 2149L680.36 2165.58L662.92 2165.58L677.03 2175.83L671.64 2192.42L685.75 2182.17L699.86 2192.42L694.47 2175.83L708.58 2165.58L691.14 2165.58Z" fill="#ffff00" fill-opacity="0.4" stroke="#ffff00" stroke-opacity="0.4" stroke-width="3.2" stroke-linejoin="bevel"/>
<path d="M901.12 2328.4L895.74 2344.98L878.3 2344.98L892.41 2355.23L887.02 2371.82L901.12 2361.57L915.23 2371.82L909.84 2355.23L923.95 2344.98L906.51 2344.98Z" fill="#ffff00" fill-opacity="0.4" stroke="#ffff00" stroke-opacity="0.4" stroke-width="3.2" stroke-linejoin="bevel"/>
<path d="M1116.5 2377.8L1111.11 2394.38L1093.67 2394.38L1107.78 2404.63L1102.39 2421.22L1116.5 2410.97L1130.61 2421.22L1125.22 2404.63L1139.33 2394.38L1121.89 2394.38Z" fill="#ffff00" fill-opacity="0.4" stroke="#ffff00" stroke-opacity="0.4" stroke-width="3.2" stroke-linejoin="bevel"/>
<path d="M1331.88 2516.3L1326.49 2532.88L1309.05 2532.88L1323.16 2543.13L1317.77 2559.72L1331.88 2549.47L1345.98 2559.72L1340.59 2543.13L1354.7 2532.88L1337.26 2532.88Z" fill="#ffff00" fill-opacity="0.4" stroke="#ffff00" stroke-opacity="0.4" stroke-width="3.2" stroke-linejoin="bevel"/>
<path d="M1547.25 2571L1541.86 2587.58L1524.42 2587.58L1538.53 2597.83L1533.14 2614.42L1547.25 2604.17L1561.36 2614.42L1555.97 2597.83L1570.08 2587.58L1552.64 2587.58Z" fill="#ffff00" fill-opacity="0.4" stroke="#ffff00" stroke-opacity="0.4" stroke-width="3.2" stroke-linejoin="bevel"/>
<path d="M1762.62 2648.3L1757.24 2664.88L1739.8 2664.88L1753.91 2675.13L1748.52 2691.72L1762.62 2681.47L1776.73 2691.72L1771.34 2675.13L1785.45 2664.88L1768.01 2664.88Z" fill="#ffff00" fill-opacity="0.4" stroke="#ffff00" stroke-opacity="0.4" stroke-width="3.2" stroke-linejoin="bevel"/>
<polyline points="470.38,2192.75 685.75,2330.8 901.12,2506.18 1116.5,2549.18 1331.88,2677.44 1547.25,2736.96 1762.62,2809.42" fill="none" stroke="#008000" stroke-opacity="0.4" stroke-width="9" stroke-linejoin="round" stroke-linecap="square"/>
<circle cx="470.38" cy="2192.75" r="19" fill="#008000" fill-opacity="0.4" stroke="#008000" stroke-opacity="0.4" stroke-width="3.2"/>
<circle cx="685.75" cy="2330.8" r="19" fill="#008000" fill-opacity="0.4" stroke="#008000" stroke-opacity="0.4" stroke-width="3.2"/>
<circle cx="901.12" cy="2506.18" r="19" fill="#008000" fill-opacity="0.4" stroke="#008000" stroke-opacity="0.4" stroke-width="3.2"/>
<circle cx="1116.5" cy="2549.18" r="19" fill="#008000" fill-opacity="0.4" stroke="#008000" stroke-opacity="0.4" stroke-width="3.2"/>
<circle cx="1331.88" cy="2677.44" r="19" fill="#008000" fill-opacity="0.4" stroke="#008000" stroke-opacity="0.4" stroke-width="3.2"/>
<circle cx="1547.25" cy="2736.96" r="19" fill="#008000" fill-opacity="0.4" stroke="#008000" stroke-opacity="0.4" stroke-width="3.2"/>
<circle cx="1762.62" cy="2809.42" r="19" fill="#008000" fill-opacity="0.4" stroke="#008000" stroke-opacity="0.4" stroke-width="3.2"/>
<polyline points="470.38,2009.7 685.75,2157.1 901.12,2341.8 1116.5,2387.6 1331.88,2523.9 1547.25,2584.4 1762.62,2661.4" fill="none" stroke="#008000" stroke-opacity="0.4" stroke-width="9" stroke-linejoin="round" stroke-linecap="square"/>
<path d="M470.38 1985.7L464.99 2002.28L447.55 2002.28L461.66 2012.53L456.27 2029.12L470.38 2018.87L484.48 2029.12L479.09 2012.53L493.2 2002.28L475.76 2002.28Z" fill="#008000" fill-opacity="0.4" stroke="#008000" stroke-opacity="0.4" stroke-width="3.2" stroke-linejoin="bevel"/>
<path d="M685.75 2133.1L680.36 2149.68L662.92 2149.68L677.03 2159.93L671.64 2176.52L685.75 2166.27L699.86 2176.52L694.47 2159.93L708.58 2149.68L691.14 2149.68Z" fill="#008000" fill-opacity="0.4" stroke="#008000" stroke-opacity="0.4" stroke-width="3.2" stroke-linejoin="bevel"/>
<path d="M901.12 2317.8L895.74 2334.38L878.3 2334.38L892.41 2344.63L887.02 2361.22L901.12 2350.97L915.23 2361.22L909.84 2344.63L923.95 2334.38L906.51 2334.38Z" fill="#008000" fill-opacity="0.4" stroke="#008000" stroke-opacity="0.4" stroke-width="3.2" stroke-linejoin="bevel"/>
<path d="M1116.5 2363.6L1111.11 2380.18L1093.67 2380.18L1107.78 2390.43L1102.39 2407.02L1116.5 2396.77L1130.61 2407.02L1125.22 2390.43L1139.33 2380.18L1121.89 2380.18Z" fill="#008000" fill-opacity="0.4" stroke="#008000" stroke-opacity="0.4" stroke-width="3.2" stroke-linejoin="bevel"/>
<path d="M1331.88 2499.9L1326.49 2516.48L1309.05 2516.48L1323.16 2526.73L1317.77 2543.32L1331.88 2533.07L1345.98 2543.32L1340.59 2526.73L1354.7 2516.48L1337.26 2516.48Z" fill="#008000" fill-opacity="0.4" stroke="#008000" stroke-opacity="0.4" stroke-width="3.2" stroke-linejoin="bevel"/>
<path d="M1547.25 2560.4L1541.86 2576.98L1524.42 2576.98L1538.53 2587.23L1533.14 2603.82L1547.25 2593.57L1561.36 2603.82L1555.97 2587.23L1570.08 2576.98L1552.64 2576.98Z" fill="#008000" fill-opacity="0.4" stroke="#008000" stroke-opacity="0.4" stroke-width="3.2" stroke-linejoin="bevel"/>
<path d="M1762.62 2637.4L1757.24 2653.98L1739.8 2653.98L1753.91 2664.23L1748.52 2680.82L1762.62 2670.57L1776.73 2680.82L1771.34 2664.23L1785.45 2653.98L1768.01 2653.98Z" fill="#008000" fill-opacity="0.4" stroke="#008000" stroke-opacity="0.4" stroke-width="3.2" stroke-linejoin="bevel"/>
<polyline points="470.38,2178.31 685.75,2315.3 901.12,2494.35 1116.5,2539.35 1331.88,2667.58 1547.25,2726.07 1762.62,2800.52" fill="none" stroke="#0000ff" stroke-opacity="0.4" stroke-width="9" stroke-linejoin="round" stroke-linecap="square"/>
<circle cx="470.38" cy="2178.31" r="19" fill="#0000ff" fill-opacity="0.4" stroke="#0000ff" stroke-opacity="0.4" stroke-width="3.2"/>
<circle cx="685.75" cy="2315.3" r="19" fill="#0000ff" fill-opacity="0.4" stroke="#0000ff" stroke-opacity="0.4" stroke-width="3.2"/>
<circle cx="901.12" cy="2494.35" r="19" fill="#0000ff" fill-opacity="0.4" stroke="#0000ff" stroke-opacity="0.4" stroke-width="3.2"/>
<circle cx="1116.5" cy="2539.35" r="19" fill="#0000ff" fill-opacity="0.4" stroke="#0000ff" stroke-opacity="0.4" stroke-width="3.2"/>
<circle cx="1331.88" cy="2667.58" r="19" fill="#0000ff" fill-opacity="0.4" stroke="#0000ff" stroke-opacity="0.4" stroke-width="3.2"/>
<circle cx="1547.25" cy="2726.07" r="19" fill="#0000ff" fill-opacity="0.4" stroke="#0000ff" stroke-opacity="0.4" stroke-width="3.2"/>
<circle cx="1762.62" cy="2800.52" r="19" fill="#0000ff" fill-opacity="0.4" stroke="#0000ff" stroke-opacity="0.4" stroke-width="3.2"/>
<polyline points="470.38,1996.2 685.75,2142.7 901.12,2330.7 1116.5,2378.4 1331.88,2514.3 1547.25,2574.1 1762.62,2653" fill="none" stroke="#0000ff" stroke-opacity="0.4" stroke-width="9" stroke-linejoin="round" stroke-linecap="square"/>
<path d="M470.38 1972.2L464.99 1988.78L447.55 1988.78L461.66 1999.03L456.27 2015.62L470.38 2005.37L484.48 2015.62L479.09 1999.03L493.2 1988.78L475.76 1988.78Z" fill="#0000ff" fill-opacity="0.4" stroke="#0000ff" stroke-opacity="0.4" stroke-width="3.2" stroke-linejoin="bevel"/>
<path d="M685.75 2118.7L680.36 2135.28L662.92 2135.28L677.03 2145.53L671.64 2162.12L685.75 2151.87L699.86 2162.12L694.47 2145.53L708.58 2135.28L691.14 2135.28Z" fill="#0000ff" fill-opacity="0.4" stroke="#0000ff" stroke-opacity="0.4" stroke-width="3.2" stroke-linejoin="bevel"/>
<path d="M901.12 2306.7L895.74 2323.28L878.3 2323.28L892.41 2333.53L887.02 2350.12L901.12 2339.87L915.23 2350.12L909.84 2333.53L923.95 2323.28L906.51 2323.28Z" fill="#0000ff" fill-opacity="0.4" stroke="#0000ff" stroke-opacity="0.4" stroke-width="3.2" stroke-linejoin="bevel"/>
<path d="M1116.5 2354.4L1111.11 2370.98L1093.67 2370.98L1107.78 2381.23L1102.39 2397.82L1116.5 2387.57L1130.61 2397.82L1125.22 2381.23L1139.33 2370.98L1121.89 2370.98Z" fill="#0000ff" fill-opacity="0.4" stroke="#0000ff" stroke-opacity="0.4" stroke-width="3.2" stroke-linejoin="bevel"/>
<path d="M1331.88 2490.3L1326.49 2506.88L1309.05 2506.88L1323.16 2517.13L1317.77 2533.72L1331.88 2523.47L1345.98 2533.72L1340.59 2517.13L1354.7 2506.88L1337.26 2506.88Z" fill="#0000ff" fill-opacity="0.4" stroke="#0000ff" stroke-opacity="0.4" stroke-width="3.2" stroke-linejoin="bevel"/>
<path d="M1547.25 2550.1L1541.86 2566.68L1524.42 2566.68L1538.53 2576.93L1533.14 2593.52L1547.25 2583.27L1561.36 2593.52L1555.97 2576.93L1570.08 2566.68L1552.64 2566.68Z" fill="#0000ff" fill-opacity="0.4" stroke="#0000ff" stroke-opacity="0.4" stroke-width="3.2" stroke-linejoin="bevel"/>
<path d="M1762.62 2629L1757.24 2645.58L1739.8 2645.58L1753.91 2655.83L1748.52 2672.42L1762.62 2662.17L1776.73 2672.42L1771.34 2655.83L1785.45 2645.58L1768.01 2645.58Z" fill="#0000ff" fill-opacity="0.4" stroke="#0000ff" stroke-opacity="0.4" stroke-width="3.2" stroke-linejoin="bevel"/>
<polyline points="470.38,2164.4 685.75,2304.9 901.12,2482 1116.5,2526 1331.88,2657.4 1547.25,2717.4 1762.62,2793.1" fill="none" stroke="#800080" stroke-opacity="0.4" stroke-width="9" stroke-linejoin="round" stroke-linecap="square"/>
<circle cx="470.38" cy="2164.4" r="19" fill="#800080" fill-opacity="0.4" stroke="#800080" stroke-opacity="0.4" stroke-width="3.2"/>
<circle cx="685.75" cy="2304.9" r="19" fill="#800080" fill-opacity="0.4" stroke="#800080" stroke-opacity="0.4" stroke-width="3.2"/>
<circle cx="901.12" cy="2482" r="19" fill="#800080" fill-opacity="0.4" stroke="#800080" stroke-opacity="0.4" stroke-width="3.2"/>
<circle cx="1116.5" cy="2526" r="19" fill="#800080" fill-opacity="0.4" stroke="#800080" stroke-opacity="0.4" stroke-width="3.2"/>
<circle cx="1331.88" cy="2657.4" r="19" fill="#800080" fill-opacity="0.4" stroke="#800080" stroke-opacity="0.4" stroke-width="3.2"/>
<circle cx="1547.25" cy="2717.4" r="19" fill="#800080" fill-opacity="0.4" stroke="#800080" stroke-opacity="0.4" stroke-width="3.2"/>
<circle cx="1762.62" cy="2793.1" r="19" fill="#800080" fill-opacity="0.4" stroke="#800080" stroke-opacity="0.4" stroke-width="3.2"/>
<polyline points="470.38,1983.2 685.75,2132.8 901.12,2319.1 1116.5,2365.9 1331.88,2504.4 1547.25,2565.9 1762.62,2646" fill="none" stroke="#800080" stroke-opacity="0.4" stroke-width="9" stroke-linejoin="round" stroke-linecap="square"/>
<path d="M470.38 1959.2L464.99 1975.78L447.55 1975.78L461.66 1986.03L456.27 2002.62L470.38 1992.37L484.48 2002.62L479.09 1986.03L493.2 1975.78L475.76 1975.78Z" fill="#800080" fill-opacity="0.4" stroke="#800080" stroke-opacity="0.4" stroke-width="3.2" stroke-linejoin="bevel"/>
<path d="M685.75 2108.8L680.36 2125.38L662.92 2125.38L677.03 2135.63L671.64 2152.22L685.75 2141.97L699.86 2152.22L694.47 2135.63L708.58 2125.38L691.14 2125.38Z" fill="#800080" fill-opacity="0.4" stroke="#800080" stroke-opacity="0.4" stroke-width="3.2" stroke-linejoin="bevel"/>
<path d="M901.12 2295.1L895.74 2311.68L878.3 2311.68L892.41 2321.93L887.02 2338.52L901.12 2328.27L915.23 2338.52L909.84 2321.93L923.95 2311.68L906.51 2311.68Z" fill="#800080" fill-opacity="0.4" stroke="#800080" stroke-opacity="0.4" stroke-width="3.2" stroke-linejoin="bevel"/>
<path d="M1116.5 2341.9L1111.11 2358.48L1093.67 2358.48L1107.78 2368.73L1102.39 2385.32L1116.5 2375.07L1130.61 2385.32L1125.22 2368.73L1139.33 2358.48L1121.89 2358.48Z" fill="#800080" fill-opacity="0.4" stroke="#800080" stroke-opacity="0.4" stroke-width="3.2" stroke-linejoin="bevel"/>
<path d="M1331.88 2480.4L1326.49 2496.98L1309.05 2496.98L1323.16 2507.23L1317.77 2523.82L1331.88 2513.57L1345.98 2523.82L1340.59 2507.23L1354.7 2496.98L1337.26 2496.98Z" fill="#800080" fill-opacity="0.4" stroke="#800080" stroke-opacity="0.4" stroke-width="3.2" stroke-linejoin="bevel"/>
<path d="M1547.25 2541.9L1541.86 2558.48L1524.42 2558.48L1538.53 2568.73L1533.14 2585.32L1547.25 2575.07L1561.36 2585.32L1555.97 2568.73L1570.08 2558.48L1552.64 2558.48Z" fill="#800080" fill-opacity="0.4" stroke="#800080" stroke-opacity="0.4" stroke-width="3.2" stroke-linejoin="bevel"/>
<path d="M1762.62 2622L1757.24 2638.58L1739.8 2638.58L1753.91 2648.83L1748.52 2665.42L1762.62 2655.17L1776.73 2665.42L1771.34 2648.83L1785.45 2638.58L1768.01 2638.58Z" fill="#800080" fill-opacity="0.4" stroke="#800080" stroke-opacity="0.4" stroke-width="3.2" stroke-linejoin="bevel"/>
<line x1="212" y1="1784.5" x2="212" y2="3101.3" stroke="#000" stroke-width="3.5" stroke-linecap="butt" />
<line x1="2020.5" y1="1784.5" x2="2020.5" y2="3101.3" stroke="#000" stroke-width="3.5" stroke-linecap="butt" />
<line x1="210.25" y1="3084.8" x2="2022.25" y2="3084.8" stroke="#000" stroke-width="3.5" stroke-linecap="butt" />
<line x1="212" y1="1801" x2="2020.5" y2="1801" stroke="#00ffff" stroke-width="4.2" stroke-linecap="butt" />
<line x1="195.5" y1="3084.8" x2="212" y2="3084.8" stroke="#000" stroke-width="3.3" stroke-linecap="butt" />
<line x1="2020.5" y1="3084.8" x2="2037" y2="3084.8" stroke="#000" stroke-width="3.3" stroke-linecap="butt" />
<text x="179.5" y="3104.6" text-anchor="end" fill="#000" style="font-family:'DejaVu Serif', 'Liberation Serif', serif;font-size:55.5px;" >3</text>
<text x="2052.6" y="3104.6" text-anchor="start" fill="#000" style="font-family:'DejaVu Serif', 'Liberation Serif', serif;font-size:55.5px;" >3</text>
<line x1="195.5" y1="2828.04" x2="212" y2="2828.04" stroke="#000" stroke-width="3.3" stroke-linecap="butt" />
<line x1="2020.5" y1="2828.04" x2="2037" y2="2828.04" stroke="#000" stroke-width="3.3" stroke-linecap="butt" />
<text x="179.5" y="2847.84" text-anchor="end" fill="#000" style="font-family:'DejaVu Serif', 'Liberation Serif', serif;font-size:55.5px;" >4</text>
<text x="2052.6" y="2847.84" text-anchor="start" fill="#000" style="font-family:'DejaVu Serif', 'Liberation Serif', serif;font-size:55.5px;" >4</text>
<line x1="195.5" y1="2571.28" x2="212" y2="2571.28" stroke="#000" stroke-width="3.3" stroke-linecap="butt" />
<line x1="2020.5" y1="2571.28" x2="2037" y2="2571.28" stroke="#000" stroke-width="3.3" stroke-linecap="butt" />
<text x="179.5" y="2591.08" text-anchor="end" fill="#000" style="font-family:'DejaVu Serif', 'Liberation Serif', serif;font-size:55.5px;" >5</text>
<text x="2052.6" y="2591.08" text-anchor="start" fill="#000" style="font-family:'DejaVu Serif', 'Liberation Serif', serif;font-size:55.5px;" >5</text>
<line x1="195.5" y1="2314.52" x2="212" y2="2314.52" stroke="#000" stroke-width="3.3" stroke-linecap="butt" />
<line x1="2020.5" y1="2314.52" x2="2037" y2="2314.52" stroke="#000" stroke-width="3.3" stroke-linecap="butt" />
<text x="179.5" y="2334.32" text-anchor="end" fill="#000" style="font-family:'DejaVu Serif', 'Liberation Serif', serif;font-size:55.5px;" >6</text>
<text x="2052.6" y="2334.32" text-anchor="start" fill="#000" style="font-family:'DejaVu Serif', 'Liberation Serif', serif;font-size:55.5px;" >6</text>
<line x1="195.5" y1="2057.76" x2="212" y2="2057.76" stroke="#000" stroke-width="3.3" stroke-linecap="butt" />
<line x1="2020.5" y1="2057.76" x2="2037" y2="2057.76" stroke="#000" stroke-width="3.3" stroke-linecap="butt" />
<text x="179.5" y="2077.56" text-anchor="end" fill="#000" style="font-family:'DejaVu Serif', 'Liberation Serif', serif;font-size:55.5px;" >7</text>
<text x="2052.6" y="2077.56" text-anchor="start" fill="#000" style="font-family:'DejaVu Serif', 'Liberation Serif', serif;font-size:55.5px;" >7</text>
<line x1="195.5" y1="1801" x2="212" y2="1801" stroke="#000" stroke-width="3.3" stroke-linecap="butt" />
<line x1="2020.5" y1="1801" x2="2037" y2="1801" stroke="#000" stroke-width="3.3" stroke-linecap="butt" />
<text x="179.5" y="1820.8" text-anchor="end" fill="#000" style="font-family:'DejaVu Serif', 'Liberation Serif', serif;font-size:55.5px;" >8</text>
<text x="2052.6" y="1820.8" text-anchor="start" fill="#000" style="font-family:'DejaVu Serif', 'Liberation Serif', serif;font-size:55.5px;" >8</text>
<line x1="255" y1="3084.8" x2="255" y2="3101.3" stroke="#000" stroke-width="3.3" stroke-linecap="butt" />
<line x1="255" y1="1784.5" x2="255" y2="1799" stroke="#000" stroke-width="3.3" stroke-linecap="butt" />
<text x="255" y="3159.3" text-anchor="middle" fill="#000" style="font-family:'DejaVu Serif', 'Liberation Serif', serif;font-size:55.5px;" >0</text>
<text x="255" y="1756.3" text-anchor="middle" fill="#000" style="font-family:'DejaVu Serif', 'Liberation Serif', serif;font-size:55.5px;" >0</text>
<line x1="685.75" y1="3084.8" x2="685.75" y2="3101.3" stroke="#000" stroke-width="3.3" stroke-linecap="butt" />
<line x1="685.75" y1="1784.5" x2="685.75" y2="1799" stroke="#000" stroke-width="3.3" stroke-linecap="butt" />
<text x="685.75" y="3159.3" text-anchor="middle" fill="#000" style="font-family:'DejaVu Serif', 'Liberation Serif', serif;font-size:55.5px;" >0.25</text>
<text x="685.75" y="1756.3" text-anchor="middle" fill="#000" style="font-family:'DejaVu Serif', 'Liberation Serif', serif;font-size:55.5px;" >0.25</text>
<line x1="1116.5" y1="3084.8" x2="1116.5" y2="3101.3" stroke="#000" stroke-width="3.3" stroke-linecap="butt" />
<line x1="1116.5" y1="1784.5" x2="1116.5" y2="1799" stroke="#000" stroke-width="3.3" stroke-linecap="butt" />
<text x="1116.5" y="3159.3" text-anchor="middle" fill="#000" style="font-family:'DejaVu Serif', 'Liberation Serif', serif;font-size:55.5px;" >0.50</text>
<text x="1116.5" y="1756.3" text-anchor="middle" fill="#000" style="font-family:'DejaVu Serif', 'Liberation Serif', serif;font-size:55.5px;" >0.50</text>
<line x1="1547.25" y1="3084.8" x2="1547.25" y2="3101.3" stroke="#000" stroke-width="3.3" stroke-linecap="butt" />
<line x1="1547.25" y1="1784.5" x2="1547.25" y2="1799" stroke="#000" stroke-width="3.3" stroke-linecap="butt" />
<text x="1547.25" y="3159.3" text-anchor="middle" fill="#000" style="font-family:'DejaVu Serif', 'Liberation Serif', serif;font-size:55.5px;" >0.75</text>
<text x="1547.25" y="1756.3" text-anchor="middle" fill="#000" style="font-family:'DejaVu Serif', 'Liberation Serif', serif;font-size:55.5px;" >0.75</text>
<line x1="1978" y1="3084.8" x2="1978" y2="3101.3" stroke="#000" stroke-width="3.3" stroke-linecap="butt" />
<line x1="1978" y1="1784.5" x2="1978" y2="1799" stroke="#000" stroke-width="3.3" stroke-linecap="butt" />
<text x="1978" y="3159.3" text-anchor="middle" fill="#000" style="font-family:'DejaVu Serif', 'Liberation Serif', serif;font-size:55.5px;" >1</text>
<text x="1978" y="1756.3" text-anchor="middle" fill="#000" style="font-family:'DejaVu Serif', 'Liberation Serif', serif;font-size:55.5px;" >1</text>
<line x1="902.9" y1="1862.5" x2="1003.9" y2="1862.5" stroke="#ff0000" stroke-width="8.8" stroke-linecap="butt" />
<text x="1036.5" y="1879.3" text-anchor="start" fill="#000" style="font-family:'DejaVu Serif', 'Liberation Serif', serif;font-size:46.5px;" >0 GPa</text>
<line x1="902.9" y1="1931.5" x2="1003.9" y2="1931.5" stroke="#ffa500" stroke-width="8.8" stroke-linecap="butt" />
<text x="1036.5" y="1948.3" text-anchor="start" fill="#000" style="font-family:'DejaVu Serif', 'Liberation Serif', serif;font-size:46.5px;" >2 GPa</text>
<line x1="902.9" y1="2001.6" x2="1003.9" y2="2001.6" stroke="#ffff00" stroke-width="8.8" stroke-linecap="butt" />
<text x="1036.5" y="2018.4" text-anchor="start" fill="#000" style="font-family:'DejaVu Serif', 'Liberation Serif', serif;font-size:46.5px;" >4 GPa</text>
<line x1="902.9" y1="2071.3" x2="1003.9" y2="2071.3" stroke="#008000" stroke-width="8.8" stroke-linecap="butt" />
<text x="1036.5" y="2088.1" text-anchor="start" fill="#000" style="font-family:'DejaVu Serif', 'Liberation Serif', serif;font-size:46.5px;" >6 GPa</text>
<line x1="902.9" y1="2141.4" x2="1003.9" y2="2141.4" stroke="#0000ff" stroke-width="8.8" stroke-linecap="butt" />
<text x="1036.5" y="2158.2" text-anchor="start" fill="#000" style="font-family:'DejaVu Serif', 'Liberation Serif', serif;font-size:46.5px;" >8 GPa</text>
<line x1="902.9" y1="2211" x2="1003.9" y2="2211" stroke="#800080" stroke-width="8.8" stroke-linecap="butt" />
<text x="1036.5" y="2227.8" text-anchor="start" fill="#000" style="font-family:'DejaVu Serif', 'Liberation Serif', serif;font-size:46.5px;" >10 GPa</text>
<line x1="1295.4" y1="1862.5" x2="1390.8" y2="1862.5" stroke="#000" stroke-width="2.2" stroke-linecap="butt" />
<circle cx="1343.4" cy="1862.5" r="16.3" fill="#000"/>
<text x="1425.5" y="1879.3" text-anchor="start" fill="#000" style="font-family:'DejaVu Serif', 'Liberation Serif', serif;font-size:46.5px;" >GPAW-PBE</text>
<line x1="1295.4" y1="1931.5" x2="1390.8" y2="1931.5" stroke="#000" stroke-width="2.2" stroke-linecap="butt" />
<path d="M1343.2 1918L1340.1 1927.54L1330.08 1927.54L1338.19 1933.43L1335.09 1942.96L1343.2 1937.07L1351.31 1942.96L1348.21 1933.43L1356.32 1927.54L1346.3 1927.54Z" fill="#000" stroke="#000" stroke-width="2.6" stroke-linejoin="round"/>
<text x="1425.5" y="1948.3" text-anchor="start" fill="#000" style="font-family:'DejaVu Serif', 'Liberation Serif', serif;font-size:46.5px;" >GPAW-GLLBSC</text>
<path d="M1343.8 1984.85L1327.05 2018.35L1360.55 2018.35Z" fill="#000"/>
<text x="1425.5" y="2018.4" text-anchor="start" fill="#000" style="font-family:'DejaVu Serif', 'Liberation Serif', serif;font-size:46.5px;" >D. Fritsch et al. (2006)</text>
<line x1="1293.1" y1="2071.3" x2="1393.1" y2="2071.3" stroke="#000" stroke-width="7.2" stroke-linecap="butt" />
<text x="1425.5" y="2088.1" text-anchor="start" fill="#000" style="font-family:'DejaVu Serif', 'Liberation Serif', serif;font-size:46.5px;" >Wen et al. (2017)</text>
<rect x="1330.1" y="2127.7" width="27.4" height="27.4" fill="#00ffff" stroke="#000" stroke-width="4.2"/>
<text x="1425.5" y="2158.2" text-anchor="start" fill="#000" style="font-family:'DejaVu Serif', 'Liberation Serif', serif;font-size:46.5px;" >L. Trinkler et al. (2022)</text>
<text transform="translate(423.8 1946) scale(1 1.065)" fill="#111a24" style="font-family:'Liberation Serif', 'Times New Roman', serif;font-size:46px;font-style:italic;">0.272</text>
<text transform="translate(668.9 2073.9) scale(1 1.065)" fill="#111a24" style="font-family:'Liberation Serif', 'Times New Roman', serif;font-size:46px;font-style:italic;">0.228</text>
<text transform="translate(890.7 2279.7) scale(1 1.065)" fill="#111a24" style="font-family:'Liberation Serif', 'Times New Roman', serif;font-size:46px;font-style:italic;">0.224</text>
<text transform="translate(1070.3 2323.8) scale(1 1.065)" fill="#111a24" style="font-family:'Liberation Serif', 'Times New Roman', serif;font-size:46px;font-style:italic;">0.229</text>
<text transform="translate(1304.9 2462.7) scale(1 1.065)" fill="#111a24" style="font-family:'Liberation Serif', 'Times New Roman', serif;font-size:46px;font-style:italic;">0.213</text>
<text transform="translate(1501.5 2522.8) scale(1 1.065)" fill="#111a24" style="font-family:'Liberation Serif', 'Times New Roman', serif;font-size:46px;font-style:italic;">0.208</text>
<text transform="translate(1713.4 2607.3) scale(1 1.065)" fill="#111a24" style="font-family:'Liberation Serif', 'Times New Roman', serif;font-size:46px;font-style:italic;">0.196</text>
<text transform="translate(424.3 2300.9) scale(1 1.065)" fill="#111a24" style="font-family:'Liberation Serif', 'Times New Roman', serif;font-size:46px;font-style:italic;">0.276</text>
<text transform="translate(639.1 2421.8) scale(1 1.065)" fill="#111a24" style="font-family:'Liberation Serif', 'Times New Roman', serif;font-size:46px;font-style:italic;">0.234</text>
<text transform="translate(860.3 2591.2) scale(1 1.065)" fill="#111a24" style="font-family:'Liberation Serif', 'Times New Roman', serif;font-size:46px;font-style:italic;">0.232</text>
<text transform="translate(1062.1 2646.5) scale(1 1.065)" fill="#111a24" style="font-family:'Liberation Serif', 'Times New Roman', serif;font-size:46px;font-style:italic;">0.232</text>
<text transform="translate(1263.9 2767.7) scale(1 1.065)" fill="#111a24" style="font-family:'Liberation Serif', 'Times New Roman', serif;font-size:46px;font-style:italic;">0.211</text>
<text transform="translate(1519.6 2831.8) scale(1 1.065)" fill="#111a24" style="font-family:'Liberation Serif', 'Times New Roman', serif;font-size:46px;font-style:italic;">0.212</text>
<text transform="translate(1726.2 2895.8) scale(1 1.065)" fill="#111a24" style="font-family:'Liberation Serif', 'Times New Roman', serif;font-size:46px;font-style:italic;">0.202</text>
<text style="font-family:'DejaVu Serif', 'Liberation Serif', serif;font-size:65px;"><tspan x="299" y="2220.9" style="font-family:'DejaVu Sans', 'Liberation Sans', sans-serif;font-style:italic;">δ</tspan><tspan x="338.7" y="2220.9">E</tspan></text>
<path d="M437 2161 C425 2161 416 2162 416 2168 L416 2192 C416 2195 410 2196.4 395 2196.4 C410 2196.4 416 2198 416 2201 L416 2226 C416 2231 425 2232 437 2232" fill="none" stroke="#000" stroke-width="3.6"/>
<text style="font-family:'DejaVu Serif', 'Liberation Serif', serif;font-size:65px;"><tspan x="1842.7" y="2697.6" style="font-family:'DejaVu Sans', 'Liberation Sans', sans-serif;font-style:italic;">δ</tspan><tspan x="1882.4" y="2697.6">E</tspan></text>
<path d="M1786.5 2642 C1798.5 2642 1807.5 2643 1807.5 2649 L1807.5 2672 C1807.5 2675 1813.5 2676.5 1828.5 2676.5 C1813.5 2676.5 1807.5 2678 1807.5 2681 L1807.5 2705 C1807.5 2710 1798.5 2711.5 1786.5 2711.5" fill="none" stroke="#000" stroke-width="3.6"/>
<text style="font-family:'DejaVu Serif', 'Liberation Serif', serif;font-size:65px;"><tspan x="263.7" y="2766.4" style="font-family:'DejaVu Sans', 'Liberation Sans', sans-serif;font-style:italic;">δ</tspan><tspan x="302.5" y="2766.4">E</tspan><tspan x="370.2" y="2766.4" style="font-family:'DejaVu Sans', 'Liberation Sans', sans-serif;">=</tspan><tspan x="445.9" y="2766.4">E</tspan><tspan x="493.9" y="2776.4" style="font-family:'DejaVu Sans', 'Liberation Sans', sans-serif;font-size:45.5px;font-style:italic;">g</tspan><tspan x="523.2" y="2776.4" style="font-family:'DejaVu Sans', 'Liberation Sans', sans-serif;font-size:45.5px;">(</tspan><tspan x="539.9" y="2776.4" style="font-family:'DejaVu Sans', 'Liberation Sans', sans-serif;font-size:45.5px;">1</tspan><tspan x="569.5" y="2776.4" style="font-family:'DejaVu Sans', 'Liberation Sans', sans-serif;font-size:45.5px;">0</tspan><tspan x="598.1" y="2776.4" style="font-family:'DejaVu Sans', 'Liberation Sans', sans-serif;font-size:45.5px;font-style:italic;">G</tspan><tspan x="633.8" y="2776.4" style="font-family:'DejaVu Sans', 'Liberation Sans', sans-serif;font-size:45.5px;font-style:italic;">P</tspan><tspan x="660.7" y="2776.4" style="font-family:'DejaVu Sans', 'Liberation Sans', sans-serif;font-size:45.5px;font-style:italic;">a</tspan><tspan x="688.6" y="2776.4" style="font-family:'DejaVu Sans', 'Liberation Sans', sans-serif;font-size:45.5px;">)</tspan><tspan x="708.4" y="2766.4">-</tspan><tspan x="730.7" y="2766.4">E</tspan><tspan x="778.5" y="2776.4" style="font-family:'DejaVu Sans', 'Liberation Sans', sans-serif;font-size:45.5px;font-style:italic;">g</tspan><tspan x="807" y="2776.4" style="font-family:'DejaVu Sans', 'Liberation Sans', sans-serif;font-size:45.5px;">(</tspan><tspan x="825" y="2776.4" style="font-family:'DejaVu Sans', 'Liberation Sans', sans-serif;font-size:45.5px;">0</tspan><tspan x="854.4" y="2776.4" style="font-family:'DejaVu Sans', 'Liberation Sans', sans-serif;font-size:45.5px;font-style:italic;">G</tspan><tspan x="889.3" y="2776.4" style="font-family:'DejaVu Sans', 'Liberation Sans', sans-serif;font-size:45.5px;font-style:italic;">P</tspan><tspan x="916.1" y="2776.4" style="font-family:'DejaVu Sans', 'Liberation Sans', sans-serif;font-size:45.5px;font-style:italic;">a</tspan><tspan x="944.8" y="2776.4" style="font-family:'DejaVu Sans', 'Liberation Sans', sans-serif;font-size:45.5px;">)</tspan></text>
</g>
<text x="66.1" y="1716.1" text-anchor="start" fill="#000" style="font-family:'Liberation Serif', 'Times New Roman', serif;font-size:97px;" >(b)</text>
<text fill="#000" style="font-family:'DejaVu Serif', 'Liberation Serif', serif;font-size:65px;"><tspan x="864.6" y="3240.4">RS Mg</tspan><tspan x="1087" y="3250.6" style="font-family:'DejaVu Sans', 'Liberation Sans', sans-serif;font-size:45.5px;">1</tspan><tspan x="1125.4" y="3250.6" style="font-family:'DejaVu Sans', 'Liberation Sans', sans-serif;font-size:45.5px;">−</tspan><tspan x="1172.7" y="3250.6" style="font-family:'DejaVu Sans', 'Liberation Sans', sans-serif;font-size:45.5px;">x</tspan><tspan x="1201" y="3240.4">Zn</tspan><tspan x="1288.5" y="3250.6" style="font-family:'DejaVu Sans', 'Liberation Sans', sans-serif;font-size:45.5px;">x</tspan><tspan x="1315.9" y="3240.4">O</tspan></text>
<text fill="#00ffff" style="font-family:'DejaVu Serif', 'Liberation Serif', serif;font-size:65px;"><tspan x="855.8" y="1695.1">WZ Zn</tspan><tspan x="1074.7" y="1705.3" style="font-family:'DejaVu Sans', 'Liberation Sans', sans-serif;font-size:45.5px;">1</tspan><tspan x="1112.6" y="1705.3" style="font-family:'DejaVu Sans', 'Liberation Sans', sans-serif;font-size:45.5px;">−</tspan><tspan x="1159.9" y="1705.3" style="font-family:'DejaVu Sans', 'Liberation Sans', sans-serif;font-size:45.5px;">x</tspan><tspan x="1188.7" y="1695.1">Mg</tspan><tspan x="1297.7" y="1705.3" style="font-family:'DejaVu Sans', 'Liberation Sans', sans-serif;font-size:45.5px;">x</tspan><tspan x="1326.3" y="1695.1">O</tspan></text>
<text transform="translate(101.7 2558.5) rotate(-90)" style="font-family:'DejaVu Serif', 'Liberation Serif', serif;font-size:65px;"><tspan x="0" y="0">E</tspan><tspan x="47.6" y="10.4" style="font-family:'DejaVu Sans', 'Liberation Sans', sans-serif;font-style:italic;font-size:45.5px;">g</tspan><tspan x="98.9" y="0">(eV)</tspan></text>
</svg>
</body></html>
